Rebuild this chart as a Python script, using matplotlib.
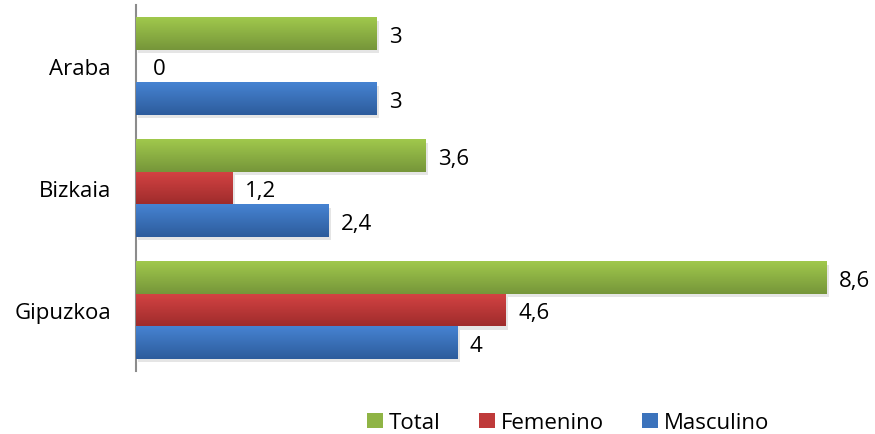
import numpy as np
import matplotlib.pyplot as plt
from matplotlib.colors import LinearSegmentedColormap
from matplotlib.patches import Patch

# données
regiones = ["Araba", "Bizkaia", "Gipuzkoa"]
series = ["Total", "Femenino", "Masculino"]
total = [3, 3.6, 8.6]
femenino = [0, 1.2, 4.6]
masculino = [3, 2.4, 4]

# couleurs (haut, bas) pour le dégradé
colores = {
    "Total": ("#a0c84c", "#76963a"),
    "Femenino": ("#d44343", "#9f2c2c"),
    "Masculino": ("#4683d2", "#2d5c9c"),
}

plt.rcParams['font.family'] = ['Open Sans', 'DejaVu Sans']
fs = 16

fig = plt.figure(figsize=(8.75, 4.35), dpi=100)
ax = fig.add_axes([136 / 875, 1 - 372 / 435, 723 / 875, 366 / 435])

h = 0.8 / 3
y = np.arange(len(regiones))
valores = [total, femenino, masculino]
offsets = [-h, 0, h]

grad = np.linspace(0, 1, 64).reshape(-1, 1)
cmaps = {}
for serie, vals, off in zip(series, valores, offsets):
    top, bot = colores[serie]
    cmap = LinearSegmentedColormap.from_list(serie, [top, bot])
    cmaps[serie] = cmap
    yy = y + off
    # ombre
    ax.barh(yy + 0.03, vals, height=h, left=0.03, color="#000000", alpha=0.10,
            zorder=1, linewidth=0)
    bars = ax.barh(yy, vals, height=h, color=bot, zorder=2, linewidth=0)
    for b, v, yc in zip(bars, vals, yy):
        if v > 0:
            im = ax.imshow(grad, cmap=cmap, aspect='auto', zorder=3,
                           extent=[0, v, yc + h / 2, yc - h / 2])
            im.set_clip_path(b)
        lab = f"{v:g}".replace('.', ',')
        dx = 12 if v == 0 else 9
        ax.annotate(lab, (v, yc), xytext=(dx, -2), textcoords='offset points',
                    ha='left', va='center', fontsize=fs, color='black')

ax.set_xlim(0, 9)
ax.set_ylim(len(regiones) - 0.5, -0.5)
ax.set_yticks(y)
ax.set_yticklabels(regiones, fontsize=fs)
ax.tick_params(axis='y', length=0, pad=18)
ax.set_xticks([])
for s in ["top", "right", "bottom"]:
    ax.spines[s].set_visible(False)
ax.spines["left"].set_color("#8c8c8c")
ax.spines["left"].set_linewidth(1.5)

handles = [Patch(facecolor=cmaps[s](0.4), edgecolor='none', label=s) for s in series]
fig.legend(handles=handles, loc='center', bbox_to_anchor=(568 / 875, 1 - 424 / 435),
           ncol=3, frameon=False, fontsize=fs, handlelength=0.75, handleheight=0.65,
           handletextpad=0.25, columnspacing=1.7)

fig.savefig("out.png", dpi=100)
